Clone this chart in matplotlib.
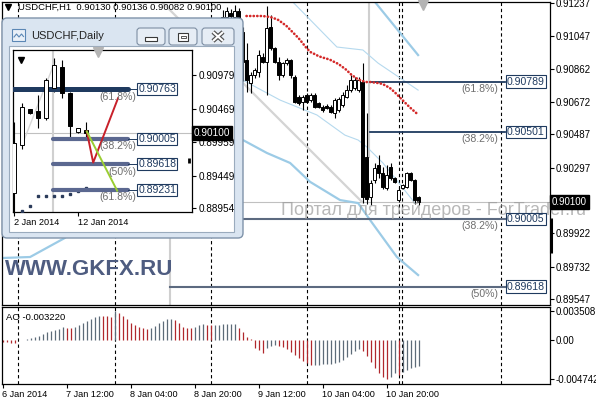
import matplotlib
matplotlib.use("Agg")
import matplotlib.pyplot as plt
from matplotlib.patches import Rectangle, FancyBboxPatch

plt.rcParams['font.family'] = ['Liberation Sans', 'DejaVu Sans']

# ---------------- H1 chart data (bars 55..104, earlier ones sit under the daily window) ----------------
first_bar = 55
h1_open = [0.91120, 0.91160, 0.91180, 0.91160, 0.91190, 0.91070, 0.90911, 0.90778, 0.90826, 0.90845,
           0.90931, 0.90902, 0.91102, 0.90978, 0.90902, 0.90826, 0.90892, 0.90911, 0.90816, 0.90702,
           0.90674, 0.90712, 0.90683, 0.90712, 0.90664, 0.90645, 0.90649, 0.90645, 0.90607, 0.90626,
           0.90655, 0.90702, 0.90740, 0.90750, 0.90740, 0.90788, 0.90358, 0.90129, 0.90226, 0.90312,
           0.90266, 0.90181, 0.90301, 0.90238, 0.90112, 0.90181, 0.90186, 0.90266, 0.90226, 0.90130]
h1_high = [0.91195, 0.91215, 0.91205, 0.91225, 0.91210, 0.91100, 0.91007, 0.90845, 0.90864, 0.90969,
           0.90950, 0.91220, 0.91168, 0.90985, 0.90931, 0.90902, 0.90921, 0.90915, 0.90826, 0.90712,
           0.90712, 0.90721, 0.90721, 0.90721, 0.90674, 0.90655, 0.90660, 0.90655, 0.90693, 0.90702,
           0.90731, 0.90769, 0.90826, 0.90816, 0.90816, 0.90892, 0.90609, 0.90226, 0.90324, 0.90369,
           0.90301, 0.90312, 0.90324, 0.90244, 0.90186, 0.90204, 0.90272, 0.90272, 0.90232, 0.90136]
h1_low = [0.91050, 0.91080, 0.91100, 0.91100, 0.91040, 0.90790, 0.90731, 0.90721, 0.90807, 0.90816,
          0.90892, 0.90712, 0.90969, 0.90895, 0.90797, 0.90816, 0.90883, 0.90807, 0.90664, 0.90655,
          0.90626, 0.90664, 0.90674, 0.90636, 0.90636, 0.90617, 0.90630, 0.90607, 0.90580, 0.90617,
          0.90645, 0.90693, 0.90731, 0.90740, 0.90731, 0.90095, 0.90090, 0.90084, 0.90209, 0.90238,
          0.90175, 0.90169, 0.90226, 0.90209, 0.90101, 0.90175, 0.90181, 0.90221, 0.90090, 0.90082]
h1_close = [0.91160, 0.91190, 0.91165, 0.91190, 0.91080, 0.90900, 0.90797, 0.90826, 0.90854, 0.90940,
            0.90902, 0.91092, 0.90978, 0.90902, 0.90826, 0.90892, 0.90911, 0.90826, 0.90674, 0.90664,
            0.90702, 0.90674, 0.90712, 0.90645, 0.90645, 0.90626, 0.90636, 0.90617, 0.90683, 0.90687,
            0.90712, 0.90740, 0.90797, 0.90797, 0.90797, 0.90130, 0.90120, 0.90209, 0.90295, 0.90266,
            0.90186, 0.90255, 0.90238, 0.90215, 0.90169, 0.90198, 0.90266, 0.90226, 0.90112, 0.90100]

# red dotted average, bars 61..104
ma_first = 61
ma_red = [0.91163, 0.91163, 0.91163, 0.91163, 0.91163, 0.91160, 0.91157, 0.91149, 0.91140, 0.91123,
          0.91106, 0.91083, 0.91060, 0.91037, 0.91009, 0.90980, 0.90957, 0.90946, 0.90934, 0.90926,
          0.90920, 0.90912, 0.90900, 0.90889, 0.90872, 0.90855, 0.90832, 0.90815, 0.90800, 0.90792,
          0.90786, 0.90786, 0.90783, 0.90780, 0.90775, 0.90763, 0.90749, 0.90729, 0.90706, 0.90683,
          0.90660, 0.90638, 0.90618, 0.90598]

# channel lines (bar, price vertices)
band_lo_x = [-0.6, 6.9, 15.6, 22, 60.1, 66.1, 71.9, 76.9, 84.4, 88.9, 91.9, 98.6, 103.9]
band_lo_y = [0.89781, 0.89787, 0.89896, 0.90030, 0.90455, 0.90381, 0.90324, 0.90216, 0.90112, 0.90095,
             0.89998, 0.89787, 0.89684]
band_hi_x = [91.8, 103.9]
band_hi_y = [0.91280, 0.90940]
inner_hi_x = [72.1, 83.6, 90.1, 93.9, 103.9]
inner_hi_y = [0.91254, 0.90986, 0.90969, 0.90894, 0.90740]
inner_lo_x = [60.1, 69.4, 78.6, 85.6, 88.9, 91.1, 95.1, 103.1]
inner_lo_y = [0.90797, 0.90683, 0.90598, 0.90483, 0.90455, 0.90415, 0.90324, 0.90095]
trend_x = [40.1, 89.9]
trend_y = [0.91237, 0.90101]

# fibonacci levels on H1
fib_levels = [0.90789, 0.90501, 0.90005, 0.89618]
fib_labels = ['0.90789', '0.90501', '0.90005', '0.89618']
fib_pct = ['(61.8%)', '(38.2%)', '(38.2%)', '(50%)']
fib_start = [91.9, 91.9, 41.9, 41.9]
fib_end = 125.6

bid = 0.90100
separators = [3.9, 28.1, 52.1, 76.1, 99.1, 99.95, 124.6]

price_ticks = [0.91237, 0.91047, 0.90862, 0.90672, 0.90487, 0.90297, 0.89922, 0.89732, 0.89547]
time_ticks = [0, 16, 32, 48, 64, 80, 96]
time_labels = ['6 Jan 2014', '7 Jan 12:00', '8 Jan 04:00', '8 Jan 20:00', '9 Jan 12:00',
               '10 Jan 04:00', '10 Jan 20:00']

# Awesome Oscillator, bars 0..104
ao = [-0.00028, -0.00030, -0.00031, -0.00033,
      0.00002, 0.00004, 0.00008, 0.00020, 0.00033, 0.00053, 0.00074, 0.00094, 0.00110, 0.00123, 0.00135, 0.00156,
      0.00152, 0.00148,
      0.00164, 0.00185, 0.00205, 0.00230, 0.00254, 0.00287, 0.00300,
      0.00295, 0.00291, 0.00287,
      0.003508,
      0.00328, 0.00295, 0.00254, 0.00213, 0.00185, 0.00156, 0.00143, 0.00135,
      0.00148, 0.00176, 0.00205, 0.00234, 0.00254, 0.00258,
      0.00246, 0.00205, 0.00164, 0.00148, 0.00143,
      0.00164, 0.00185, 0.00193,
      0.00185, 0.00180,
      0.00185, 0.00189, 0.00191, 0.00193, 0.00195, 0.00196,
      0.00144, 0.00103, 0.00041, 0.00012,
      -0.00094, -0.00123, -0.00156,
      -0.00103, -0.00074, -0.00062,
      -0.00070, -0.00090, -0.00115, -0.00144, -0.00185, -0.00226, -0.00258, -0.00287, -0.00308,
      -0.00306, -0.00303, -0.00300, -0.00295, -0.00290, -0.00282, -0.00268, -0.00246, -0.00210, -0.00170,
      -0.00130, -0.00110,
      -0.00140, -0.00195, -0.00270, -0.00350, -0.00410, -0.00450, -0.004742,
      -0.00450, -0.00410,
      -0.00430,
      -0.00395, -0.00370, -0.00350, -0.00338, -0.00322]
ao_ticks = [0.003508, 0.0, -0.004742]
ao_tick_labels = ['0.003508', '0.00', '-0.004742']

# ---------------- Daily window data ----------------
d_open = [0.89190, 0.89910, 0.90458, 0.90428, 0.90320, 0.90780, 0.91100, 0.90700, 0.90106, 0.90150]
d_high = [0.90260, 0.90550, 0.90470, 0.90673, 0.90930, 0.91240, 0.91210, 0.90720, 0.90170, 0.90260]
d_low = [0.88850, 0.89860, 0.90390, 0.90167, 0.90300, 0.90720, 0.90630, 0.90030, 0.90100, 0.90030]
d_close = [0.89940, 0.90490, 0.90397, 0.90320, 0.90900, 0.91130, 0.90700, 0.90210, 0.90167, 0.90100]
d_sar = [0.88911, 0.88987, 0.89141, 0.89141, 0.89141, 0.89141, 0.89171, 0.89220, 0.89263]
d_fib = [0.90763, 0.90005, 0.89618, 0.89231]
d_fib_labels = ['0.90763', '0.90005', '0.89618', '0.89231']
d_fib_pct = ['(61.8%)', '(38.2%)', '(50%)', '(61.8%)']
d_zig_x = [9.1, 9.9, 13.0]
d_zig_y = [0.90121, 0.89646, 0.90627]
d_green_x = [9.1, 12.9]
d_green_y = [0.90121, 0.89217]
d_ticks = [0.90979, 0.90469, 0.89959, 0.89449, 0.88954]
d_date_ticks = [0, 8]
d_date_labels = ['2 Jan 2014', '12 Jan 2014']

NAVY = '#1f3a5f'
SLATE = '#5c6a80'
BLUE = '#9ccbe6'
RED_AO = '#b0282d'
GREY_AO = '#5d6b78'

W, H = 596, 400


def px_rect(x0, y0, x1, y1):
    return [x0 / W, 1 - y1 / H, (x1 - x0) / W, (y1 - y0) / H]


def candles(axis, xs, o, h, l, c, width, z=4):
    for x, oo, hh, ll, cc in zip(xs, o, h, l, c):
        axis.vlines(x, ll, hh, color='black', lw=0.8, zorder=z)
        lo, hi = min(oo, cc), max(oo, cc)
        face = 'white' if cc >= oo else 'black'
        axis.add_patch(Rectangle((x - width / 2, lo), width, max(hi - lo, 0.00002),
                                 facecolor=face, edgecolor='black', lw=0.7, zorder=z + 0.1))


fig = plt.figure(figsize=(W / 100, H / 100), dpi=100)
ax = fig.add_axes(px_rect(2, 2, 550, 305))
ax_ao = fig.add_axes(px_rect(2, 307, 550, 384))
ax_deco = fig.add_axes([0, 0, 1, 1], zorder=2)
ax_in = fig.add_axes(px_rect(13, 50, 192, 212), zorder=3)

# ---------------- main H1 chart ----------------
ax.set_xlim(-0.125, 136.875)
ax.set_ylim(0.89513, 0.91243)
ax.axhline(bid, color='#c0c0c0', lw=0.8, zorder=1)
for s in separators:
    ax.axvline(s, color='black', lw=0.8, ls=(0, (3, 2.5)), zorder=1)
ax.vlines(91.6, 0.9035, 0.9125, color='#cfcfcf', lw=1.5, zorder=1)
ax.vlines(41.9, 0.8950, 0.9000, color='#cfcfcf', lw=1.5, zorder=1)

ax.plot(band_lo_x, band_lo_y, color=BLUE, lw=1.6, zorder=2)
ax.plot(band_hi_x, band_hi_y, color=BLUE, lw=1.6, zorder=2)
ax.plot(inner_hi_x, inner_hi_y, color='#b5d9ee', lw=0.8, zorder=2)
ax.plot(inner_lo_x, inner_lo_y, color='#b5d9ee', lw=0.8, zorder=2)
ax.plot(trend_x, trend_y, color='#d4d4d4', lw=1.6, zorder=2)

# watermark sits under the price boxes, over the chart
ax.text(281 / W, 1 - 215 / H, 'Портал для трейдеров - ForTrader.ru', transform=fig.transFigure,
        ha='left', va='baseline', fontsize=13, color='#9a9a9a', alpha=0.7, zorder=5.5, clip_on=False)

for i, lvl in enumerate(fib_levels):
    col = NAVY if i < 2 else SLATE
    ax.plot([fib_start[i], fib_end], [lvl, lvl], color=col, lw=1.3 if i < 2 else 1.5, zorder=3)
    ax.text(126.1, lvl, fib_labels[i], ha='left', va='center', fontsize=7.6, color=NAVY, zorder=6,
            bbox=dict(boxstyle='square,pad=0.12', fc='white', ec=NAVY, lw=0.8))
    ax.annotate(fib_pct[i], xy=(123.9, lvl), xytext=(0, -5.3), textcoords='offset points',
                ha='right', va='center', fontsize=7.6, color='#6e6e6e', zorder=6)

bars = list(range(first_bar, first_bar + len(h1_open)))
candles(ax, bars, h1_open, h1_high, h1_low, h1_close, 0.62)

ma_bars = list(range(ma_first, ma_first + len(ma_red)))
ax.plot(ma_bars, ma_red, color='#d42a2a', lw=1.9, ls=(0, (0.1, 1.25)), dash_capstyle='round', zorder=5)

ax.yaxis.tick_right()
ax.set_yticks(price_ticks)
ax.set_yticklabels([f'{t:.5f}' for t in price_ticks])
ax.tick_params(axis='y', length=3, width=0.8, pad=1, labelsize=7, colors='black')
ax.set_xticks([])
for sp in ax.spines.values():
    sp.set_color('black')
    sp.set_linewidth(0.9)

ytr = ax.get_yaxis_transform()
ax.text(1.003, bid, '0.90100', transform=ytr, ha='left', va='center', fontsize=7, color='white',
        zorder=7, bbox=dict(boxstyle='square,pad=0.2', fc='black', ec='black'))
ax.vlines(1.002, 0.8981, 0.9001, transform=ytr, color='black', lw=2.2, clip_on=False, zorder=7)

ax.plot([0.011], [0.982], marker='v', color='black', ms=4, transform=ax.transAxes, zorder=7)
ax.plot([105.1], [0.91225], marker='v', color='#b4b4b4', ms=7, zorder=7, clip_on=False)
ax.text(0.029, 0.983, 'USDCHF,H1  0.90130 0.90136 0.90082 0.90100', transform=ax.transAxes,
        ha='left', va='center', fontsize=6.8, color='black', zorder=7)

# ---------------- AO panel ----------------
ax_ao.set_xlim(-0.125, 136.875)
ax_ao.set_ylim(-0.00541, 0.00406)
for s in separators:
    ax_ao.axvline(s, color='black', lw=0.8, ls=(0, (3, 2.5)), zorder=1)
ao_colors = [RED_AO] + [GREY_AO if ao[i] > ao[i - 1] else RED_AO for i in range(1, len(ao))]
ax_ao.vlines(range(len(ao)), 0, ao, colors=ao_colors, lw=0.9, zorder=2)
ax_ao.yaxis.tick_right()
ax_ao.set_yticks(ao_ticks)
ax_ao.set_yticklabels(ao_tick_labels)
ax_ao.tick_params(axis='y', length=3, width=0.8, pad=1, labelsize=7)
ax_ao.set_xticks(time_ticks)
ax_ao.set_xticklabels(time_labels)
ax_ao.tick_params(axis='x', length=3, width=0.8, pad=1.5, labelsize=6.6)
for lab in ax_ao.get_xticklabels():
    lab.set_ha('left')
for sp in ax_ao.spines.values():
    sp.set_color('black')
    sp.set_linewidth(0.9)
ax_ao.text(0.008, 0.86, 'AO -0.003220', transform=ax_ao.transAxes, ha='left', va='center',
           fontsize=6.8, color='black')

# ---------------- Daily window chrome ----------------
ax_deco.set_xlim(0, W)
ax_deco.set_ylim(H, 0)
ax_deco.axis('off')
ax_deco.patch.set_alpha(0)
ax_deco.add_patch(FancyBboxPatch((2, 18), 241, 220, boxstyle='round,pad=0,rounding_size=5',
                                 fc='#dae5f1', ec='#7f93aa', lw=1))
ax_deco.add_patch(Rectangle((9, 46), 225, 186, fc='white', ec='#9aabbd', lw=0.8))
ax_deco.add_patch(Rectangle((12, 29), 13, 12, fc='#e9f0f8', ec='#5b87b5', lw=0.8))
ax_deco.plot([14, 16.5, 19, 21.5, 23.5], [37, 34, 37, 34, 36.5], color='#5b87b5', lw=0.8)
ax_deco.text(31, 36, 'USDCHF,Daily', ha='left', va='center', fontsize=8, color='#222222')
for bx, bw in [(137, 28), (169, 28), (202, 32)]:
    ax_deco.add_patch(FancyBboxPatch((bx, 28), bw, 17, boxstyle='round,pad=0,rounding_size=3',
                                     fc='#e6edf5', ec='#7d8ea3', lw=0.8))
ax_deco.add_patch(Rectangle((145, 37), 12, 3.5, fc='white', ec='#3a3a3a', lw=0.8))
ax_deco.add_patch(Rectangle((178, 32.5), 10, 8, fc='white', ec='#3a3a3a', lw=0.8))
ax_deco.add_patch(Rectangle((180.5, 35.5), 5, 2.5, fc='white', ec='#3a3a3a', lw=0.6))
for xs, ys in [([213, 223], [32, 41]), ([213, 223], [41, 32])]:
    ax_deco.plot(xs, ys, color='#505050', lw=3.2, solid_capstyle='butt')
for xs, ys in [([213, 223], [32, 41]), ([213, 223], [41, 32])]:
    ax_deco.plot(xs, ys, color='white', lw=1.5, solid_capstyle='butt')

# ---------------- Daily chart ----------------
ax_in.set_xlim(-0.125, 22.25)
ax_in.set_ylim(0.88893, 0.91362)
ax_in.axhline(bid, color='#c0c0c0', lw=0.8, zorder=1)
ax_in.axvline(4.9, color='#d0d0d0', lw=1.5, zorder=1)
ax_in.plot([1.0, 5.1], [0.89910, 0.91180], color='#d8d8d8', lw=1.0, zorder=1)
candles(ax_in, range(len(d_open)), d_open, d_high, d_low, d_close, 0.62)
ax_in.plot(range(1, len(d_sar) + 1), d_sar, ls='none', marker='s', ms=1.6, color='#2b3b5a', zorder=3)
for i, lvl in enumerate(d_fib):
    col = NAVY if i == 0 else '#5b6890'
    start = -0.125 if i == 0 else 4.9
    ax_in.plot([start, 14.25], [lvl, lvl], color=col, lw=3.6 if i == 0 else 3.0,
               solid_capstyle='round', zorder=4)
    ax_in.plot([14.25, 15.5], [lvl, lvl], color=NAVY, lw=0.7, zorder=4)
    ax_in.text(15.55, lvl, d_fib_labels[i], ha='left', va='center', fontsize=7.6, color=NAVY, zorder=6,
               bbox=dict(boxstyle='square,pad=0.1', fc='white', ec=NAVY, lw=0.8))
    ax_in.annotate(d_fib_pct[i], xy=(15.3, lvl), xytext=(0, -5.3), textcoords='offset points',
                   ha='right', va='center', fontsize=7.6, color='#6e6e6e', zorder=6)
ax_in.plot(d_zig_x, d_zig_y, color='#c8202a', lw=1.4, zorder=5)
ax_in.plot(d_green_x, d_green_y, color='#9acd32', lw=1.4, zorder=5)
ax_in.plot([0.045], [0.94], marker='v', color='black', ms=4, transform=ax_in.transAxes, zorder=7)
ax_in.plot([0.475], [0.985], marker='v', color='#b4b4b4', ms=7, transform=ax_in.transAxes,
           zorder=7, clip_on=False)

ax_in.yaxis.tick_right()
ax_in.set_yticks(d_ticks)
ax_in.set_yticklabels([f'{t:.5f}' for t in d_ticks])
ax_in.tick_params(axis='y', length=3, width=0.8, pad=1.5, labelsize=7.2)
ax_in.set_xticks(d_date_ticks)
ax_in.set_xticklabels(d_date_labels)
ax_in.tick_params(axis='x', length=3, width=0.8, pad=1.5, labelsize=6.6)
for lab in ax_in.get_xticklabels():
    lab.set_ha('left')
for sp in ax_in.spines.values():
    sp.set_color('black')
    sp.set_linewidth(0.9)
itr = ax_in.get_yaxis_transform()
ax_in.text(1.01, bid, '0.90100', transform=itr, ha='left', va='center', fontsize=7.2, color='white',
           zorder=7, bbox=dict(boxstyle='square,pad=0.2', fc='black', ec='black'))
ax_in.vlines(0.985, 0.89646, 0.89723, transform=itr, color='black', lw=2, zorder=7)

# ---------------- broker mark ----------------
fig.text(5 / W, 1 - 275 / H, 'WWW.GKFX.RU', ha='left', va='baseline', fontsize=16,
         fontweight='bold', color='#4e5c80', zorder=10)

fig.savefig('out.png', dpi=100)
